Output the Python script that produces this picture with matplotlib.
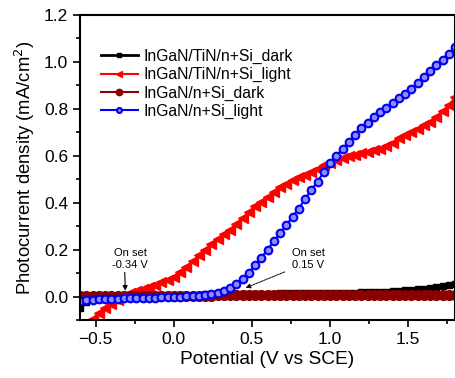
import numpy as np
import matplotlib
matplotlib.use("Agg")
import matplotlib.pyplot as plt
from matplotlib.ticker import MultipleLocator

plt.rcParams['font.family'] = ['Liberation Sans', 'DejaVu Sans']

# potential sweep (V vs SCE), one reading every 0.04 V
potential = np.round(np.linspace(-0.6, 1.8, 61), 2)

tin_dark = [-0.050, -0.022, -0.006, 0.000, 0.002, 0.003, 0.004, 0.004, 0.005, 0.005,
            0.005, 0.006, 0.006, 0.006, 0.007, 0.007, 0.007, 0.008, 0.008, 0.008,
            0.009, 0.009, 0.009, 0.010, 0.010, 0.010, 0.011, 0.011, 0.011, 0.012,
            0.012, 0.012, 0.013, 0.013, 0.013, 0.014, 0.014, 0.014, 0.015, 0.015,
            0.016, 0.016, 0.016, 0.017, 0.017, 0.018, 0.018, 0.019, 0.020, 0.021,
            0.022, 0.024, 0.026, 0.028, 0.031, 0.034, 0.037, 0.040, 0.044, 0.048,
            0.052]

tin_light = [-0.200, -0.140, -0.095, -0.070, -0.048, -0.030, -0.015, 0.003, 0.013, 0.022,
             0.031, 0.040, 0.050, 0.060, 0.070, 0.085, 0.105, 0.125, 0.150, 0.175,
             0.200, 0.225, 0.245, 0.265, 0.285, 0.310, 0.335, 0.360, 0.385, 0.405,
             0.425, 0.445, 0.465, 0.480, 0.495, 0.510, 0.520, 0.530, 0.545, 0.560,
             0.570, 0.580, 0.590, 0.600, 0.605, 0.610, 0.615, 0.625, 0.630, 0.640,
             0.655, 0.675, 0.690, 0.700, 0.715, 0.730, 0.745, 0.765, 0.790, 0.815,
             0.850]

si_dark = [0.004, 0.004, 0.004, 0.004, 0.004, 0.004, 0.004, 0.004, 0.004, 0.004,
           0.004, 0.004, 0.004, 0.004, 0.004, 0.004, 0.004, 0.004, 0.004, 0.004,
           0.004, 0.004, 0.005, 0.005, 0.005, 0.005, 0.005, 0.005, 0.005, 0.005,
           0.005, 0.005, 0.005, 0.005, 0.005, 0.005, 0.005, 0.005, 0.005, 0.005,
           0.006, 0.006, 0.006, 0.006, 0.006, 0.006, 0.006, 0.006, 0.006, 0.006,
           0.006, 0.006, 0.006, 0.006, 0.006, 0.006, 0.007, 0.007, 0.007, 0.007,
           0.007]

si_light = [-0.020, -0.015, -0.013, -0.012, -0.011, -0.010, -0.009, -0.008, -0.008, -0.007,
            -0.006, -0.005, -0.005, -0.004, -0.003, -0.002, 0.000, 0.001, 0.002, 0.004,
            0.006, 0.010, 0.016, 0.025, 0.037, 0.055, 0.075, 0.100, 0.135, 0.165,
            0.200, 0.235, 0.270, 0.305, 0.340, 0.375, 0.415, 0.455, 0.490, 0.530,
            0.570, 0.600, 0.630, 0.660, 0.690, 0.720, 0.740, 0.765, 0.785, 0.805,
            0.825, 0.845, 0.865, 0.885, 0.910, 0.935, 0.960, 0.985, 1.010, 1.035,
            1.065]

fig = plt.figure(figsize=(4.55, 3.78), dpi=100)
ax = fig.add_axes([80 / 455, 58 / 378, 375 / 455, 305 / 378])

ax.plot(potential, tin_dark, color='black', marker='s', markersize=5, lw=2,
        label='InGaN/TiN/n+Si_dark')
ax.plot(potential, tin_light, color='red', marker='<', markersize=7, lw=1.5,
        label='InGaN/TiN/n+Si_light')
ax.plot(potential, si_dark, color='#8b0000', marker='o', markersize=7, lw=1.5,
        label='InGaN/n+Si_dark')
ax.plot(potential, si_light, color='blue', marker='o', markersize=5.5, lw=1.5,
        markeredgecolor='#0000ee', markerfacecolor='#8c8cff', markeredgewidth=1.5,
        label='InGaN/n+Si_light')

ax.set_xlim(-0.6, 1.8)
ax.set_ylim(-0.1, 1.2)
ax.xaxis.set_major_locator(MultipleLocator(0.5))
ax.xaxis.set_minor_locator(MultipleLocator(0.25))
ax.yaxis.set_major_locator(MultipleLocator(0.2))
ax.yaxis.set_minor_locator(MultipleLocator(0.1))
ax.tick_params(which='both', direction='out', top=False, right=False,
               labelsize=12.5, width=1.2)
ax.tick_params(which='major', length=5)
ax.tick_params(which='minor', length=3)
for s in ax.spines.values():
    s.set_linewidth(1.5)

ax.set_xlabel('Potential (V vs SCE)', fontsize=13.8, labelpad=3)
ax.set_ylabel('Photocurrent density (mA/cm$^2$)', fontsize=13.3, labelpad=5)

ax.annotate('On set\n-0.34 V', xy=(-0.31, 0.025), xytext=(-0.28, 0.115),
            fontsize=8, ha='center', va='bottom',
            arrowprops=dict(arrowstyle='-|>', color='black', lw=0.8,
                            mutation_scale=7, shrinkA=0, shrinkB=0,
                            relpos=(0.35, 0.0)))
ax.annotate('', xy=(0.46, 0.037), xytext=(0.71, 0.105),
            arrowprops=dict(arrowstyle='-|>', color='black', lw=0.7,
                            linestyle=(0, (2, 1)), mutation_scale=7,
                            shrinkA=0, shrinkB=0))
ax.text(0.76, 0.115, 'On set\n0.15 V', fontsize=8, ha='left', va='bottom')

ax.legend(loc='upper left', bbox_to_anchor=(0.03, 0.92), frameon=False,
          fontsize=11.3, handlelength=2.4, handletextpad=0.3,
          labelspacing=0.2, borderaxespad=0.2, markerscale=0.65)

fig.savefig('out.png', dpi=100)
